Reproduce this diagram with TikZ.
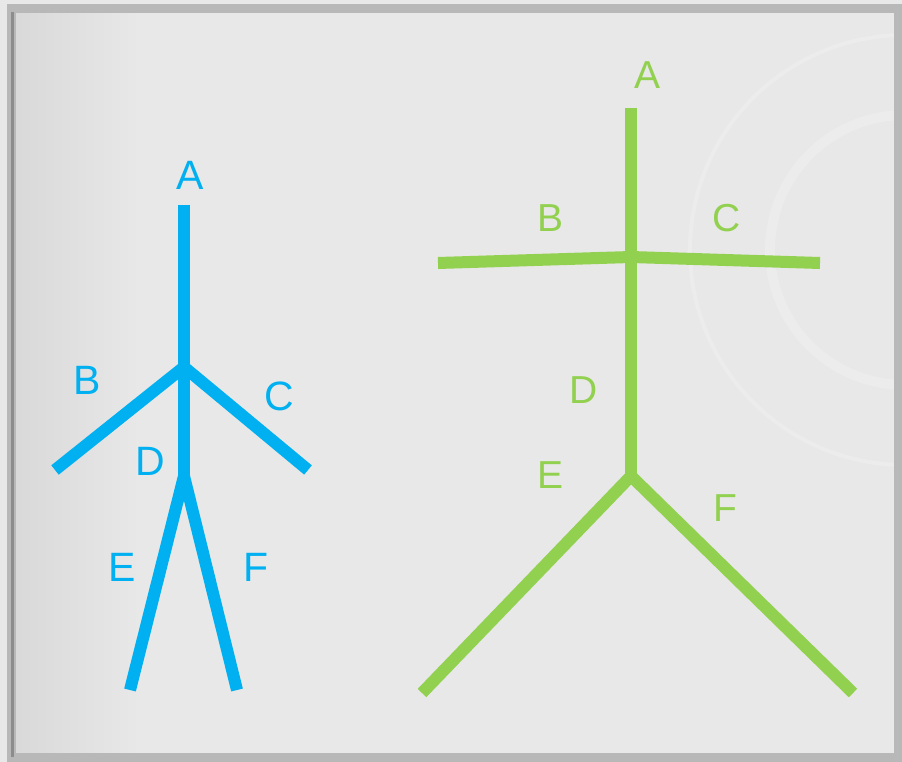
\documentclass[tikz,border=0pt]{standalone}
\usepackage{fontspec}
\setmainfont{Liberation Sans}
\definecolor{FigBlue}{RGB}{0,176,240}
\definecolor{FigGreen}{RGB}{146,208,80}
\definecolor{PanelGray}{RGB}{232,232,232}
\definecolor{FrameGray}{RGB}{184,184,184}
\definecolor{MarkGray}{RGB}{236,236,236}
\usetikzlibrary{positioning,calc}
\tikzset{
  bluelimb/.style={FigBlue,line width=12pt},
  greenlimb/.style={FigGreen,line width=12pt},
  bluelabel/.style={text=FigBlue,font=\fontsize{41}{41}\selectfont,inner sep=0pt},
  greenlabel/.style={text=FigGreen,font=\fontsize{39}{39}\selectfont,inner sep=0pt},
}

\begin{document}
\begin{tikzpicture}[x=1pt,y=-1pt]
  \useasboundingbox (0,0) rectangle (902,762);
  % panel and frame
  \fill[PanelGray] (0,0) rectangle (902,762);
  \fill[left color=black!15,right color=PanelGray] (15,14) rectangle (140,756);
  \draw[MarkGray,line width=10pt] (905,250) circle (135);
  \draw[MarkGray,line width=4pt] (905,250) circle (215);
  \draw[FrameGray,line width=9pt] (11,9) rectangle (898,757);
  \draw[black!45,line width=3pt] (12.5,12) -- (12.5,757);

  % blue figure
  \coordinate (bA) at (184,205);
  \coordinate (bN) at (184,367);
  \coordinate (bH) at (184,476);
  \coordinate (bB) at (55,470);
  \coordinate (bC) at (308,470);
  \coordinate (bE) at (130,690);
  \coordinate (bF) at (237,690);
  \draw[bluelimb] (bA) -- (bH);
  \draw[bluelimb] (bB) -- (bN) -- (bC);
  \draw[bluelimb] (bE) -- (bH) -- (bF);
  \node[bluelabel] (blA) at (190,175) {A};
  \node[bluelabel] (blB) at (87,380) {B};
  \node[bluelabel] (blC) at (279,396) {C};
  \node[bluelabel] (blD) at (150,461) {D};
  \node[bluelabel] (blE) at (122,567) {E};
  \node[bluelabel] (blF) at (256,567) {F};

  % green figure
  \coordinate (gA) at (631,108);
  \coordinate (gN) at (631,257);
  \coordinate (gH) at (631,476);
  \coordinate (gB) at (438,263);
  \coordinate (gC) at (820,263);
  \coordinate (gE) at (422,693);
  \coordinate (gF) at (853,693);
  \draw[greenlimb] (gA) -- (gH);
  \draw[greenlimb] (gB) -- (gN) -- (gC);
  \draw[greenlimb] (gE) -- (gH) -- (gF);
  \node[greenlabel] (glA) at (647,75) {A};
  \node[greenlabel] (glB) at (550,218) {B};
  \node[greenlabel] (glC) at (727,218) {C};
  \node[greenlabel] (glD) at (584,390) {D};
  \node[greenlabel] (glE) at (550,475) {E};
  \node[greenlabel] (glF) at (725,508) {F};
\end{tikzpicture}
\end{document}
